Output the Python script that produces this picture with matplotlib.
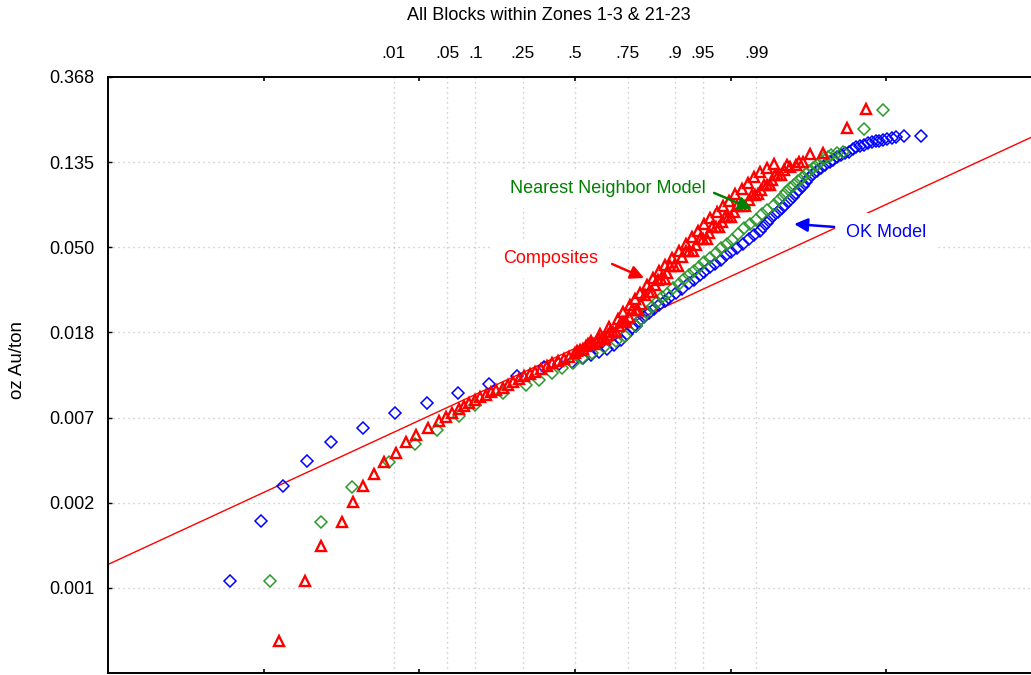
import numpy as np
import matplotlib.pyplot as plt
from matplotlib.transforms import blended_transform_factory
from statistics import NormalDist

plt.rcParams['font.family'] = ['Liberation Sans', 'DejaVu Sans']

# Probability plot: x = normal quantile, y = grade (oz Au/ton, log scale)
title = 'All Blocks within Zones 1-3 & 21-23'

prob_ticks = [.01, .05, .1, .25, .5, .75, .9, .95, .99]
prob_labels = ['.01', '.05', '.1', '.25', '.5', '.75', '.9', '.95', '.99']
y_tick_exp = [-1, -2, -3, -4, -5, -6, -7]
y_tick_labels = ['0.368', '0.135', '0.050', '0.018', '0.007', '0.002', '0.001']

# Composites (red triangles)
comp_z = [-3.80, -3.47, -3.26, -3.00, -2.85, -2.72, -2.58, -2.45, -2.30, -2.17, -2.04, -1.89, -1.75,
          -1.66, -1.58, -1.49, -1.43, -1.36, -1.29, -1.22, -1.15, -1.08, -1.02,
          -0.93, -0.86, -0.80, -0.72, -0.66, -0.58, -0.51, -0.44, -0.36, -0.29,
          -0.22, -0.14, -0.08, 0.00, 0.06, 0.14, 0.21, 0.28, 0.35, 0.42,
          0.49, 0.57, 0.63, 0.69, 0.78, 0.85, 0.95, 1.03, 1.11, 1.18,
          1.27, 1.38, 1.47, 1.56, 1.65, 1.72, 1.81, 1.89, 1.97, 2.04,
          2.13, 2.24, 2.31, 2.39, 2.47, 2.53, 2.61, 2.69, 2.76, 2.84,
          2.93, 3.02, 3.19, 3.50, 3.74,
          0.03, 0.10, 0.17, 0.25, 0.31, 0.39, 0.45, 0.53, 0.60, 0.66,
          0.73, 0.81, 0.90, 0.99, 1.07, 1.15, 1.22, 1.32, 1.42, 1.51,
          1.60, 1.69, 1.76, 1.85, 1.93, 2.00, 2.08, 2.18, 2.27, 2.35,
          2.43, 2.50, 2.57, 2.65, 2.72, 2.88,
          0.20, 0.32, 0.44, 0.55, 0.62, 0.70, 0.77, 0.84, 0.92, 1.00,
          1.08, 1.16, 1.24, 1.33, 1.42, 1.50, 1.58, 1.66, 1.74, 1.82,
          1.90, 1.98, 2.06, 2.14, 2.22, 2.30, 2.38, 2.46, 2.55]
comp_grade = [0.000488, 0.000986, 0.001485, 0.00198, 0.00251, 0.00301, 0.00347, 0.00400, 0.00445,
              0.00505, 0.00548, 0.00593, 0.00646,
              0.00677, 0.00708, 0.00744, 0.00771, 0.00796, 0.00827, 0.00857, 0.00877, 0.00908, 0.00930,
              0.00948, 0.00983, 0.01018, 0.01064, 0.01098, 0.01130, 0.01155, 0.01192, 0.01233, 0.01272,
              0.01307, 0.01338, 0.01374, 0.01435, 0.01487, 0.01553, 0.01603, 0.01660, 0.01714, 0.01775,
              0.01839, 0.01963, 0.02075, 0.0220, 0.02385, 0.02561, 0.02959, 0.03195, 0.03429, 0.03681,
              0.03995, 0.0444, 0.0477, 0.05116, 0.0549, 0.0589, 0.0632, 0.0670, 0.0711, 0.0753,
              0.0809, 0.0868, 0.0920, 0.0976, 0.1035, 0.1098, 0.1163, 0.1234, 0.1278, 0.1309,
              0.1356, 0.1489, 0.1507, 0.2014, 0.2527,
              0.0148, 0.0150, 0.0160, 0.0159, 0.0172, 0.0169, 0.0185, 0.0185, 0.0207, 0.0206,
              0.0238, 0.0237, 0.0285, 0.0296, 0.0338, 0.0343, 0.0398, 0.0400, 0.0478, 0.0479,
              0.0550, 0.0549, 0.0633, 0.0631, 0.0712, 0.0710, 0.0812, 0.0806, 0.0921, 0.0925,
              0.1037, 0.1030, 0.1165, 0.1160, 0.1310, 0.1360,
              0.0165, 0.0180, 0.0196, 0.0215, 0.0232, 0.0252, 0.0270, 0.0292, 0.0318, 0.0346,
              0.0376, 0.0405, 0.0440, 0.0478, 0.0520, 0.0562, 0.0605, 0.0652, 0.0700, 0.0750,
              0.0805, 0.0862, 0.0925, 0.0990, 0.1060, 0.1130, 0.1200, 0.1270, 0.1330]

# Nearest neighbor model (green diamonds)
nn_z = [-3.92, -3.26, -2.86, -2.39, -2.05, -1.77, -1.49, -1.28, -0.93, -0.63,
        -0.46, -0.29, -0.17, -0.03, 0.09, 0.22, 0.37, 0.52, 0.64, 0.78,
        0.93, 1.05, 1.18, 1.34, 1.47, 1.59, 1.74, 1.88, 2.02, 2.17,
        2.33, 2.47, 2.62, 2.71, 2.81, 2.92, 3.01, 3.11, 3.20, 3.29,
        3.44, 3.71, 3.96,
        0.85, 0.99, 1.12, 1.26, 1.40, 1.53, 1.66, 1.81, 1.95, 2.10,
        2.25, 2.40, 2.55, 2.67, 2.76, 2.87, 2.97, 3.06, 3.16, 3.25, 3.36]
nn_grade = [0.000983, 0.00198, 0.00298, 0.00399, 0.00493, 0.00581, 0.00686, 0.00780, 0.00895, 0.00983,
            0.01043, 0.01133, 0.01206, 0.01273, 0.01354, 0.01431, 0.0154, 0.01647, 0.01754, 0.01979,
            0.0233, 0.0262, 0.0289, 0.0325, 0.0361, 0.0397, 0.0441, 0.0491, 0.0545, 0.0625,
            0.0686, 0.0775, 0.0870, 0.0950, 0.1040, 0.1125, 0.1215, 0.1315, 0.1421, 0.1472,
            0.1530, 0.1988, 0.2497,
            0.0215, 0.0247, 0.0276, 0.0307, 0.0342, 0.0378, 0.0418, 0.0466, 0.0516, 0.0585,
            0.0655, 0.0735, 0.0822, 0.0910, 0.0995, 0.1085, 0.1175, 0.1265, 0.1370, 0.1445, 0.1505]

# OK model (blue diamonds)
ok_z = [-4.43, -4.03, -3.75, -3.44, -3.14, -2.73, -2.31, -1.90, -1.50, -1.10, -0.75,
        -0.40, -0.21, -0.04, 0.10, 0.21, 0.31, 0.41, 0.50, 0.59, 0.67,
        0.73, 0.82, 0.95, 1.08, 1.21, 1.38, 1.53, 1.66, 1.80, 1.94,
        2.08, 2.24, 2.37, 2.46, 2.56, 2.66, 2.75, 2.84, 2.93, 3.01,
        3.11, 3.21, 3.32, 3.42, 3.52, 3.61, 3.71, 3.82, 3.91, 4.01,
        4.13, 4.23, 4.45,
        0.78, 0.88, 1.01, 1.15, 1.30, 1.46, 1.60, 1.73, 1.87, 2.01,
        2.16, 2.30, 2.42, 2.51, 2.61, 2.70, 2.80, 2.88, 2.97, 3.06,
        3.16, 3.27, 3.37, 3.47, 3.57, 3.66, 3.77, 3.87, 3.96, 4.07]
ok_grade = [0.00099, 0.00199, 0.00301, 0.00404, 0.00506, 0.00593, 0.00709, 0.00796, 0.00901, 0.00995, 0.01098,
            0.0122, 0.01262, 0.01292, 0.01354, 0.01402, 0.01452, 0.01504, 0.01584, 0.01680, 0.01796,
            0.01927, 0.02099, 0.02300, 0.02520, 0.02730, 0.03060, 0.0340, 0.03740, 0.04100, 0.0452,
            0.04960, 0.0548, 0.06050, 0.06650, 0.0725, 0.0790, 0.0862, 0.0942, 0.1023, 0.1124,
            0.1219, 0.1309, 0.1388, 0.1472, 0.1525, 0.1617, 0.1655, 0.1714, 0.1735, 0.1776,
            0.1818, 0.1840, 0.1840,
            0.0198, 0.0220, 0.0242, 0.0264, 0.0290, 0.0327, 0.0358, 0.0393, 0.0430, 0.0472,
            0.0518, 0.0575, 0.0632, 0.0690, 0.0755, 0.0822, 0.0900, 0.0980, 0.1070, 0.1170,
            0.1265, 0.1350, 0.1430, 0.1500, 0.1570, 0.1635, 0.1690, 0.1725, 0.1755, 0.1800]

# Lognormal reference line for the composites
fit_z = [-6.0, 6.0]
fit_grade = [0.00120, 0.192]

RED = '#ff0000'
GREEN_MK = '#2a9a2a'
GREEN_TX = '#008000'
BLUE = '#0000ff'
GRID = '#bdbdbd'

fig = plt.figure(figsize=(10.31, 6.75), dpi=100)
ax = fig.add_axes([0.1048, 0.003, 0.9059, 0.8830])

ax.set_yscale('log')
ax.set_xlim(-6, 6)
ax.set_ylim(np.exp(-8), np.exp(-1))

# grid (dotted) at probability positions and y ticks
prob_z = [NormalDist().inv_cdf(p) for p in prob_ticks]
for z in prob_z:
    ax.axvline(z, color=GRID, lw=1, ls=(0, (0.8, 2.8)), zorder=0.5)
for e in y_tick_exp[1:]:
    ax.axhline(np.exp(e), color=GRID, lw=1, ls=(0, (0.8, 2.8)), zorder=0.5)

ax.plot(fit_z, fit_grade, color=RED, lw=1, zorder=2)
ax.plot(ok_z, ok_grade, ls='none', marker='D', ms=6.2, mfc='none', mec=BLUE, mew=1.1, zorder=3)
ax.plot(nn_z, nn_grade, ls='none', marker='D', ms=6.2, mfc='none', mec=GREEN_MK, mew=1.1, zorder=3)
ax.plot(comp_z, comp_grade, ls='none', marker='^', ms=7.6, mfc='none', mec=RED, mew=1.7, zorder=3)

# axes ticks
ax.set_yticks([np.exp(e) for e in y_tick_exp])
ax.set_yticklabels(y_tick_labels)
ax.yaxis.set_minor_locator(plt.NullLocator())
ax.set_xticks([-4, -2, 0, 2, 4])
ax.tick_params(axis='x', which='both', direction='in', length=3, width=1.2,
               top=True, bottom=True, labelbottom=False, labeltop=False)
ax.tick_params(axis='y', direction='in', length=3, width=1, labelsize=13, pad=10)
for s in ['left', 'top', 'bottom', 'right']:
    ax.spines[s].set_linewidth(1.4)

trans = blended_transform_factory(ax.transData, ax.transAxes)
for z, lab in zip(prob_z, prob_labels):
    ax.text(z, 1.040, lab, transform=trans, ha='center', va='center', fontsize=12.5)

fig.text(549 / 1031, 1 - 15 / 675, title, ha='center', va='center', fontsize=13)
fig.text(18 / 1031, 0.467, 'oz Au/ton', rotation=90, ha='center', va='center', fontsize=13.5)

# labels with arrows
box = dict(boxstyle='square,pad=0.6', fc='white', ec='none')
ax.text(0.42, 0.0942, 'Nearest Neighbor Model', color=GREEN_TX, fontsize=13,
        ha='center', va='baseline', bbox=box, zorder=5)
ax.text(-0.312, 0.0415, 'Composites', color=RED, fontsize=13,
        ha='center', va='baseline', bbox=box, zorder=5)
ax.text(4.0, 0.0564, 'OK Model', color=BLUE, fontsize=13,
        ha='center', va='baseline', bbox=box, zorder=5)

arrow = dict(arrowstyle='-|>', lw=1.8, mutation_scale=20, shrinkA=0, shrinkB=0)
ax.annotate('', xy=(2.275, 0.0781), xytext=(1.787, 0.0942),
            arrowprops=dict(arrow, color=GREEN_TX), zorder=6)
ax.annotate('', xy=(0.887, 0.0347), xytext=(0.476, 0.0409),
            arrowprops=dict(arrow, color=RED), zorder=6)
ax.annotate('', xy=(2.815, 0.0654), xytext=(3.329, 0.0632),
            arrowprops=dict(arrow, color=BLUE), zorder=6)

fig.savefig('out.png', dpi=100)
